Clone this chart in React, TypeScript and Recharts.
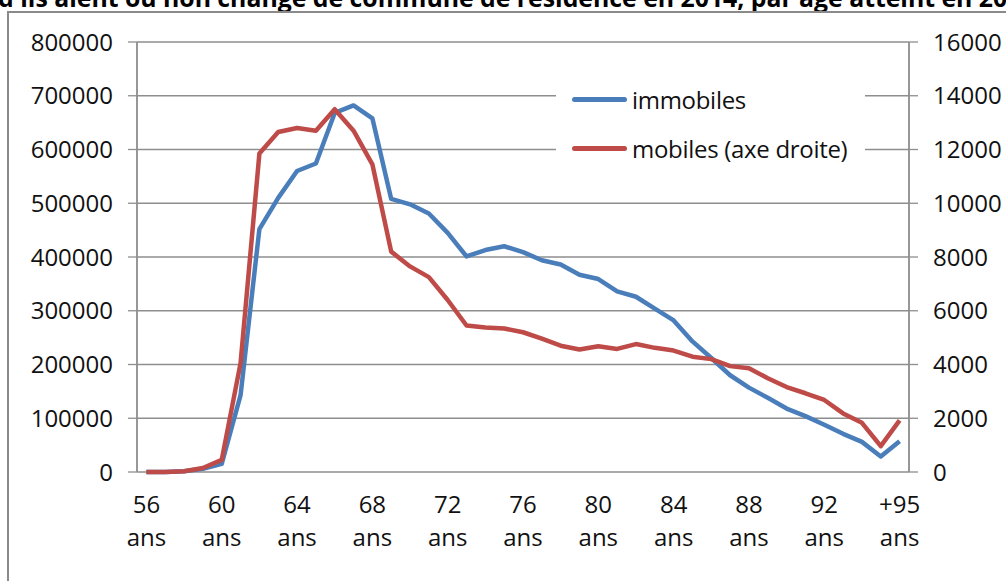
import { LineChart, Line, XAxis, YAxis, CartesianGrid, Legend } from 'recharts';

// Âge atteint : une catégorie par année, de 56 ans à « +95 ans »
const ageLabels = [
  '56 ans', '57 ans', '58 ans', '59 ans', '60 ans', '61 ans', '62 ans', '63 ans',
  '64 ans', '65 ans', '66 ans', '67 ans', '68 ans', '69 ans', '70 ans', '71 ans',
  '72 ans', '73 ans', '74 ans', '75 ans', '76 ans', '77 ans', '78 ans', '79 ans',
  '80 ans', '81 ans', '82 ans', '83 ans', '84 ans', '85 ans', '86 ans', '87 ans',
  '88 ans', '89 ans', '90 ans', '91 ans', '92 ans', '93 ans', '94 ans', '95 ans',
  '+95 ans',
];

// axe de gauche
const immobiles = [
  0, 0, 1500, 6000, 15000, 143000, 452000, 510000, 560000, 574000,
  668000, 682000, 658000, 508000, 498000, 481000, 445000, 401000, 413000, 420000,
  409000, 394000, 386000, 367000, 359000, 336000, 326000, 304000, 282000, 243000,
  212000, 180000, 157000, 138000, 118000, 104000, 88000, 71000, 56000, 29000,
  57000,
];

// axe de droite
const mobiles = [
  0, 0, 30, 150, 450, 4050, 11850, 12650, 12800, 12700,
  13500, 12700, 11450, 8200, 7650, 7250, 6400, 5450, 5380, 5340,
  5200, 4960, 4700, 4560, 4680, 4580, 4760, 4620, 4520, 4290,
  4200, 3940, 3860, 3490, 3160, 2930, 2680, 2180, 1830, 960,
  1920,
];

const leftTicks = [0, 100000, 200000, 300000, 400000, 500000, 600000, 700000, 800000];
const rightTicks = [0, 2000, 4000, 6000, 8000, 10000, 12000, 14000, 16000];

const BLUE = '#4a7ebb';
const RED = '#be4b48';
const GRID = '#8e8e8e';
const FONT = '"Open Sans", sans-serif';

const data = ageLabels.map((label, i) => ({
  pos: i,
  label,
  immobiles: immobiles[i],
  mobiles: mobiles[i],
}));

// une étiquette tous les 4 ans, quadrillage entre les catégories
const labelTicks = data.filter((d) => d.pos % 4 === 0).map((d) => d.pos);
const gridTicks = labelTicks.map((p) => p - 0.5);

const legendItems = [
  { name: 'immobiles', color: BLUE },
  { name: 'mobiles (axe droite)', color: RED },
];

function AgeTick({ x, y, payload }: any) {
  const [num, unit] = ageLabels[payload.value].split(' ');
  return (
    <text x={x} y={y} textAnchor="middle" fill="#111" fontSize={24} fontFamily={FONT}>
      <tspan x={x} dy={41}>{num}</tspan>
      <tspan x={x} dy={33}>{unit}</tspan>
    </text>
  );
}

function LegendBox() {
  return (
    <div style={{ position: 'relative', width: 309, height: 98, background: '#fff' }}>
      {legendItems.map((it, i) => (
        <div
          key={it.name}
          style={{
            position: 'absolute',
            left: 16,
            top: 7 + 49 * i,
            height: 34,
            display: 'flex',
            alignItems: 'center',
            whiteSpace: 'nowrap',
          }}
        >
          <span style={{ width: 55, height: 5, borderRadius: 3, background: it.color }} />
          <span style={{ marginLeft: 5, fontSize: 24, letterSpacing: -0.3, fontFamily: FONT, color: '#111' }}>
            {it.name}
          </span>
        </div>
      ))}
    </div>
  );
}

export default function App() {
  return (
    <div style={{ position: 'fixed', left: 0, top: 0, width: 1006, height: 581, overflow: 'hidden', background: '#fff' }}>
      <div
        style={{
          position: 'absolute',
          left: -2,
          top: -15,
          whiteSpace: 'nowrap',
          fontFamily: FONT,
          fontWeight: 700,
          fontSize: 24.8,
          lineHeight: 1,
          color: '#000',
        }}
      >
        d'ils aient ou non changé de commune de résidence en 2014, par âge atteint en 2015
      </div>
      <div
        style={{
          position: 'absolute',
          left: 7,
          top: 11,
          width: 1010,
          height: 600,
          borderLeft: '2px solid #8a8a8a',
          borderTop: '2px solid #8a8a8a',
        }}
      />
      <div style={{ position: 'absolute', left: 0, top: 0 }}>
        <LineChart width={1006} height={581} data={data} margin={{ top: 42, right: 7, bottom: 29, left: 37 }}>
          <XAxis
            xAxisId="grid"
            dataKey="pos"
            type="number"
            domain={[-0.5, 40.5]}
            ticks={gridTicks}
            height={0}
            tick={false}
            tickSize={7}
            tickLine={{ stroke: GRID, strokeWidth: 1.3 }}
            axisLine={{ stroke: GRID, strokeWidth: 1.5 }}
          />
          <XAxis
            dataKey="pos"
            type="number"
            domain={[-0.5, 40.5]}
            ticks={labelTicks}
            height={80}
            tick={<AgeTick />}
            tickLine={false}
            tickSize={0}
            tickMargin={0}
            axisLine={false}
          />
          <YAxis
            yAxisId="left"
            domain={[0, 800000]}
            ticks={leftTicks}
            width={100}
            tickSize={9}
            tickMargin={15}
            tick={{ fill: '#111', fontSize: 24, fontFamily: FONT }}
            tickLine={{ stroke: GRID, strokeWidth: 1.3 }}
            axisLine={{ stroke: GRID, strokeWidth: 1.5 }}
          />
          <YAxis
            yAxisId="right"
            orientation="right"
            domain={[0, 16000]}
            ticks={rightTicks}
            width={90}
            tickSize={9}
            tickMargin={15}
            tick={{ fill: '#111', fontSize: 24, fontFamily: FONT, textAnchor: 'start' }}
            tickLine={{ stroke: GRID, strokeWidth: 1.3 }}
            axisLine={{ stroke: GRID, strokeWidth: 1.5 }}
          />
          <CartesianGrid xAxisId="grid" yAxisId="left" stroke={GRID} strokeWidth={1.3} />
          <Legend
            layout="vertical"
            align="center"
            verticalAlign="middle"
            content={<LegendBox />}
            wrapperStyle={{ left: 556, top: 75, width: 309, height: 98 }}
          />
          <Line
            yAxisId="left"
            dataKey="immobiles"
            name="immobiles"
            stroke={BLUE}
            strokeWidth={4.5}
            strokeLinejoin="round"
            dot={false}
            isAnimationActive={false}
          />
          <Line
            yAxisId="right"
            dataKey="mobiles"
            name="mobiles (axe droite)"
            stroke={RED}
            strokeWidth={4.5}
            strokeLinejoin="round"
            dot={false}
            isAnimationActive={false}
          />
        </LineChart>
      </div>
    </div>
  );
}
